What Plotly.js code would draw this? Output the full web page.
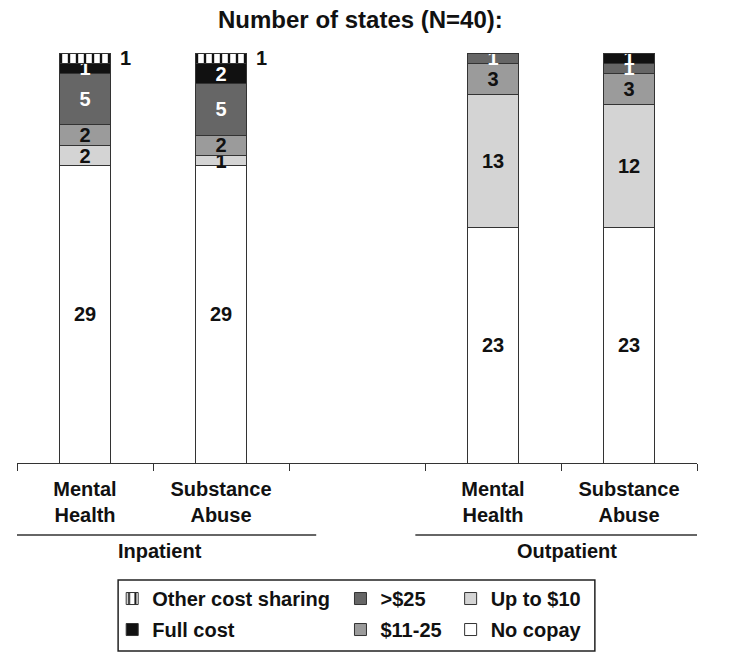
<!DOCTYPE html>
<html>
<head>
<meta charset="utf-8">
<script src="https://cdn.plot.ly/plotly-3.0.1.min.js"></script>
<style>html,body{margin:0;padding:0;background:#fff;}#chart{width:729px;height:661px;}</style>
</head>
<body>
<div id="chart"></div>
<script>
// Category slot positions (slot 2 is an empty spacer between the groups)
const xPos = [0, 1, 3, 4];
const tickLabels = ["Mental<br>Health", "Substance<br>Abuse", "Mental<br>Health", "Substance<br>Abuse"];
const groupLabels = ["Inpatient", "Outpatient"];

// Series (bottom to top of each stack)
const noCopay   = [29, 29, 23, 23];
const upTo10    = [2, 1, 13, 12];
const c11to25   = [2, 2, 3, 3];
const over25    = [5, 5, 1, 1];
const fullCost  = [1, 2, 0, 1];
const otherCost = [1, 1, 0, 0];

const FONT = '"Liberation Sans", Arial, Helvetica, sans-serif';
const lbl = v => v.map(n => n > 0 ? String(n) : '');

function series(name, y, color, txtColor, legend, rank, extra) {
  const t = {
    type: 'bar', name: name, x: xPos, y: y,
    width: 0.375,
    marker: {color: color, line: {color: '#333', width: 1}},
    text: lbl(y), textposition: 'inside', insidetextanchor: 'middle',
    constraintext: 'none', textangle: 0,
    textfont: {family: FONT, size: 20, color: txtColor, weight: 'bold'},
    hoverinfo: 'skip', legend: legend, legendgroup: name, legendrank: rank
  };
  return Object.assign(t, extra || {});
}

const traces = [
  series('No copay', noCopay, '#ffffff', '#111', 'legend3', 2),
  series('Up to $10', upTo10, '#d4d4d4', '#111', 'legend3', 1),
  series('$11-25', c11to25, '#9b9b9b', '#111', 'legend2', 2),
  series('>$25', over25, '#666666', '#fff', 'legend2', 1),
  series('Full cost', fullCost, '#111111', '#fff', 'legend', 2),
  series('Other cost sharing', otherCost, '#ffffff', '#111', 'legend', 1, {
    text: otherCost.map(() => ''),
    marker: {color: '#ffffff', line: {color: '#333', width: 1},
      pattern: {shape: '|', fgcolor: '#111', bgcolor: '#fff', size: 8, solidity: 0.3, fillmode: 'replace'}}
  })
];

// outside labels for "Other cost sharing"
const annotations = [];
xPos.forEach((x, i) => {
  if (otherCost[i] > 0) {
    const below = noCopay[i] + upTo10[i] + c11to25[i] + over25[i] + fullCost[i];
    annotations.push({x: x, y: below + otherCost[i] / 2, xref: 'x', yref: 'y',
      text: String(otherCost[i]), showarrow: false, xanchor: 'center', yanchor: 'middle', xshift: 40,
      font: {family: FONT, size: 20, color: '#111', weight: 'bold'}});
  }
});
annotations.push({x: 0.552, y: -0.2146, xref: 'x', yref: 'paper', text: groupLabels[0], showarrow: false,
  yanchor: 'middle', font: {family: FONT, size: 20, color: '#111', weight: 'bold'}});
annotations.push({x: 3.547, y: -0.2146, xref: 'x', yref: 'paper', text: groupLabels[1], showarrow: false,
  yanchor: 'middle', font: {family: FONT, size: 20, color: '#111', weight: 'bold'}});

const legFont = {family: FONT, size: 20, color: '#111', weight: 'bold'};
const legBase = {orientation: 'v', traceorder: 'grouped', tracegroupgap: 2,
  bgcolor: 'rgba(0,0,0,0)', borderwidth: 0, font: legFont, xanchor: 'left', yanchor: 'top', y: -0.283};

const layout = {
  width: 729, height: 661,
  margin: {l: 17, r: 32, t: 53, b: 198},
  paper_bgcolor: '#fff', plot_bgcolor: '#fff',
  font: {family: FONT, color: '#111'},
  title: {text: 'Number of states (N=40):', x: 0.505, xref: 'paper', xanchor: 'center',
    y: 0.97, yref: 'container', yanchor: 'middle',
    font: {family: FONT, size: 24, color: '#111', weight: 'bold'}},
  barmode: 'stack',
  xaxis: {range: [-0.5, 4.5], tickmode: 'array', tickvals: xPos, ticktext: tickLabels,
    ticks: '', ticklabelstandoff: 8, showgrid: false, zeroline: false, showline: true, linecolor: '#333', linewidth: 1,
    tickfont: {family: FONT, size: 20, color: '#111', weight: 'bold'},
    minor: {tickmode: 'linear', tick0: -0.5, dtick: 1, ticks: 'outside', ticklen: 7, tickcolor: '#333', tickwidth: 1, showgrid: false},
    fixedrange: true},
  yaxis: {range: [0, 40], visible: false, showgrid: false, zeroline: false, fixedrange: true},
  showlegend: true,
  legend: Object.assign({}, legBase, {x: 0.14}),
  legend2: Object.assign({}, legBase, {x: 0.4757}),
  legend3: Object.assign({}, legBase, {x: 0.6377}),
  shapes: [
    {type: 'line', xref: 'x', yref: 'paper', x0: -0.566, x1: 1.70, y0: -0.1756, y1: -0.1756, line: {color: '#333', width: 1.5}},
    {type: 'line', xref: 'x', yref: 'paper', x0: 2.429, x1: 4.688, y0: -0.1756, y1: -0.1756, line: {color: '#333', width: 1.5}},
    {type: 'rect', xref: 'paper', yref: 'paper', x0: 0.1487, x1: 0.8498, y0: -0.4585, y1: -0.2854, line: {color: '#222', width: 1.5}, fillcolor: 'rgba(0,0,0,0)'}
  ],
  annotations: annotations
};

Plotly.newPlot('chart', traces, layout, {displayModeBar: false, staticPlot: true});
</script>
</body>
</html>
